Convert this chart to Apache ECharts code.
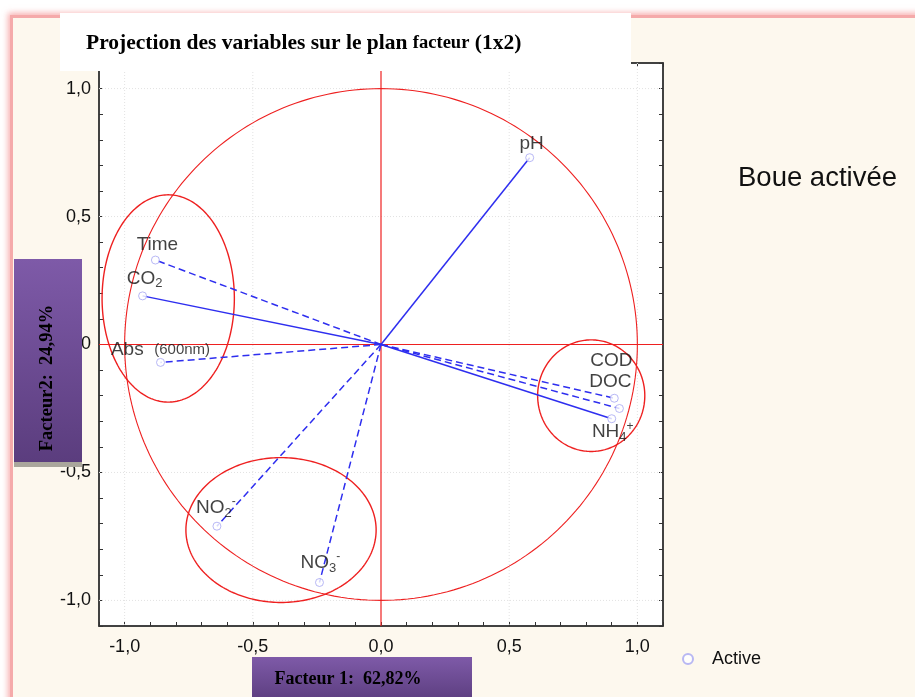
<!DOCTYPE html>
<html>
<head>
<meta charset="utf-8">
<script src="https://cdn.jsdelivr.net/npm/echarts@6/dist/echarts.min.js"></script>
<style>
  html, body { margin: 0; padding: 0; background: #ffffff; width: 915px; height: 697px; overflow: hidden; }
  #frame { position: absolute; left: 10px; top: 15px; width: 1000px; height: 800px;
           background: #fdf8ee; border-left: 3px solid #f5aaaa; border-top: 3px solid #f5aaaa;
           box-shadow: -2px -2px 6px rgba(240, 110, 110, 0.55); }
  #chart { position: absolute; left: 0; top: 0; width: 915px; height: 697px; }
</style>
</head>
<body>
<div id="frame"></div>
<div id="chart"></div>
<script>
// Variable loadings on the first two factors
const varNames = ['pH', 'Time', 'CO2', 'Abs', 'COD', 'DOC', 'NH4', 'NO2', 'NO3'];
const factor1 = [0.58, -0.88, -0.93, -0.86, 0.91, 0.93, 0.90, -0.64, -0.24];
const factor2 = [0.73, 0.33, 0.19, -0.07, -0.21, -0.25, -0.29, -0.71, -0.93];

// Groups of variables circled on the plane: centre and half-axes, in factor units
const groupCentreX = [-0.83, 0.82, -0.39];
const groupCentreY = [0.18, -0.20, -0.725];
const groupRadiusX = [0.258, 0.209, 0.371];
const groupRadiusY = [0.405, 0.218, 0.283];

// Axis ticks that carry a label / a grid line
const gridValues = [-1.0, -0.5, 0.5, 1.0];

// Line style per variable
const dashedVars = new Set(['Time', 'Abs', 'COD', 'DOC', 'NO2', 'NO3']);

// Rich-text label and its offset from the default "top" placement
const labelSpec = {
  pH:   { text: '{b|pH}', offset: [2, 3] },
  Time: { text: '{b|Time}', offset: [2, 1] },
  CO2:  { text: '{b|CO}{sub|2}', offset: [2, -1] },
  Abs:  { text: '{b|Abs  }{s|(600nm)}', offset: [0, 4] },
  COD:  { text: '{b|COD}', offset: [-3, -21] },
  DOC:  { text: '{b|DOC}', offset: [-9, -10] },
  NH4:  { text: '{b|NH}{sub|4}{sup|+}', offset: [1, 30] },
  NO2:  { text: '{b|NO}{sub|2}{sup|-}', offset: [-1, -2] },
  NO3:  { text: '{b|NO}{sub|3}{sup|-}', offset: [1, -3] }
};

const SANS = '"Liberation Sans", Arial, sans-serif';
const SERIF = '"Liberation Serif", "Times New Roman", serif';
const BLUE = '#2e2eef';
const RED = '#ee2020';
const INK = '#111111';

const plain = { textBorderWidth: 0, textShadowBlur: 0 };
const richStyles = {
  b:   Object.assign({ fontFamily: SANS, fontSize: 19, color: INK, lineHeight: 24 }, plain),
  s:   Object.assign({ fontFamily: SANS, fontSize: 15, color: INK, lineHeight: 24 }, plain),
  sub: Object.assign({ fontFamily: SANS, fontSize: 13, color: INK, lineHeight: 13, verticalAlign: 'bottom' }, plain),
  sup: Object.assign({ fontFamily: SANS, fontSize: 12, color: INK, lineHeight: 13, verticalAlign: 'top' }, plain)
};

function tickLabel(v) {
  const d = Math.round(v * 10);
  if (d % 5 !== 0) return '';
  return (d / 10).toFixed(1).replace('.', ',');
}

const axisCommon = {
  type: 'value', min: -1.1, max: 1.1, interval: 0.1,
  axisLine: { show: true, onZero: false, lineStyle: { color: '#333', width: 1.5 } },
  axisTick: { show: true, inside: true, length: 4, lineStyle: { color: '#333', width: 1 } },
  splitLine: { show: false }
};

// Decorations in data units: grid lines, red axes, unit circle, group ellipses
function renderFrame(params, api) {
  const cs = params.coordSys;
  const children = [];
  gridValues.forEach(g => {
    const px = api.coord([g, 0])[0];
    const py = api.coord([0, g])[1];
    children.push({ type: 'line', shape: { x1: px, y1: cs.y, x2: px, y2: cs.y + cs.height },
      style: { stroke: '#e2e2e2', lineWidth: 1, lineDash: [1, 2] } });
    children.push({ type: 'line', shape: { x1: cs.x, y1: py, x2: cs.x + cs.width, y2: py },
      style: { stroke: '#e2e2e2', lineWidth: 1, lineDash: [1, 2] } });
  });
  const o = api.coord([0, 0]);
  children.push({ type: 'line', shape: { x1: o[0], y1: cs.y, x2: o[0], y2: cs.y + cs.height },
    style: { stroke: RED, lineWidth: 1.2 } });
  children.push({ type: 'line', shape: { x1: cs.x, y1: o[1], x2: cs.x + cs.width, y2: o[1] },
    style: { stroke: RED, lineWidth: 1.2 } });
  const N = 240;
  const ring = [];
  for (let i = 0; i <= N; i++) {
    const t = i / N * Math.PI * 2;
    ring.push(api.coord([Math.cos(t), Math.sin(t)]));
  }
  children.push({ type: 'polyline', shape: { points: ring }, style: { stroke: RED, lineWidth: 1.1, fill: null } });
  for (let k = 0; k < groupCentreX.length; k++) {
    const pts = [];
    for (let i = 0; i <= N; i++) {
      const t = i / N * Math.PI * 2;
      pts.push(api.coord([groupCentreX[k] + groupRadiusX[k] * Math.cos(t),
                          groupCentreY[k] + groupRadiusY[k] * Math.sin(t)]));
    }
    children.push({ type: 'polyline', shape: { points: pts }, style: { stroke: RED, lineWidth: 1.4, fill: null } });
  }
  return { type: 'group', children: children };
}

const series = [{
  type: 'custom', name: 'frame', silent: true, z: 1,
  data: [[0, 0]],
  renderItem: renderFrame
}];

varNames.forEach((name, i) => {
  series.push({
    type: 'line', name: 'vec-' + name, silent: true, z: 3,
    symbol: 'none',
    data: [[0, 0], [factor1[i], factor2[i]]],
    lineStyle: { color: BLUE, width: 1.5, type: dashedVars.has(name) ? [7, 4] : 'solid' }
  });
});

series.push({
  type: 'scatter', name: 'Active', z: 5,
  symbol: 'circle', symbolSize: 8,
  itemStyle: { color: '#ffffff', borderColor: '#a6a6f2', borderWidth: 1 },
  data: varNames.map((name, i) => ({
    name: name,
    value: [factor1[i], factor2[i]],
    label: {
      show: true, position: 'top', distance: 0, offset: labelSpec[name].offset,
      color: INK, textBorderWidth: 0,
      formatter: labelSpec[name].text, rich: richStyles
    }
  }))
});

const chart = echarts.init(document.getElementById('chart'), null, { renderer: 'canvas' });
chart.setOption({
  backgroundColor: 'transparent',
  animation: false,
  grid: { left: 99, right: 252, top: 63, bottom: 71, show: true,
          backgroundColor: '#ffffff', borderColor: '#444', borderWidth: 1.5 },
  xAxis: [
    Object.assign({}, axisCommon, { position: 'bottom',
      axisLabel: { formatter: tickLabel, fontFamily: SANS, fontSize: 18, color: INK, margin: 12, showMinLabel: true, showMaxLabel: true } }),
    Object.assign({}, axisCommon, { position: 'top', axisLabel: { show: false } })
  ],
  yAxis: [
    Object.assign({}, axisCommon, { position: 'left',
      axisLabel: { formatter: tickLabel, fontFamily: SANS, fontSize: 18, color: INK, margin: 8 } }),
    Object.assign({}, axisCommon, { position: 'right', axisLabel: { show: false } })
  ],
  legend: {
    left: 677, top: 645, orient: 'vertical',
    data: ['Active'], icon: 'circle', itemWidth: 10, itemHeight: 10,
    textStyle: { fontFamily: SANS, fontSize: 18, color: INK, padding: [0, 0, 0, 14] }
  },
  series: series,
  graphic: [
    { type: 'rect', z: 50, shape: { x: 60, y: 13, width: 571, height: 58 }, style: { fill: '#ffffff' } },
    { type: 'text', z: 51, x: 86, y: 43,
      style: {
        text: '{a|Projection des variables sur le plan }{c|facteur}{a| (1x2)}',
        verticalAlign: 'middle',
        rich: {
          a: { fontFamily: SERIF, fontSize: 21.5, fontWeight: 'bold', fill: '#000' },
          c: { fontFamily: SERIF, fontSize: 18.5, fontWeight: 'bold', fill: '#000' }
        }
      } },
    { type: 'text', z: 51, x: 738, y: 178,
      style: { text: 'Boue activée', font: '27.5px ' + SANS, fill: INK, verticalAlign: 'middle' } },
    { type: 'rect', z: 60, shape: { x: 14, y: 259, width: 68, height: 203 },
      style: {
        fill: new echarts.graphic.LinearGradient(0, 0, 0, 1, [
          { offset: 0, color: '#7e5aa8' }, { offset: 1, color: '#5b3d7e' }]),
        shadowColor: '#aaa69c', shadowOffsetY: 5, shadowBlur: 0
      } },
    { type: 'text', z: 61, x: 47, y: 378, rotation: Math.PI / 2,
      style: { text: 'Facteur2:  24,94%', font: 'bold 18.5px ' + SERIF, fill: '#000',
               align: 'center', verticalAlign: 'middle' } },
    { type: 'rect', z: 60, shape: { x: 252, y: 657, width: 220, height: 45 },
      style: {
        fill: new echarts.graphic.LinearGradient(0, 0, 0, 1, [
          { offset: 0, color: '#7e5aa8' }, { offset: 1, color: '#5b3d7e' }])
      } },
    { type: 'text', z: 61, x: 348, y: 679,
      style: { text: 'Facteur 1:  62,82%', font: 'bold 18px ' + SERIF, fill: '#000',
               align: 'center', verticalAlign: 'middle' } }
  ]
});
</script>
</body>
</html>
